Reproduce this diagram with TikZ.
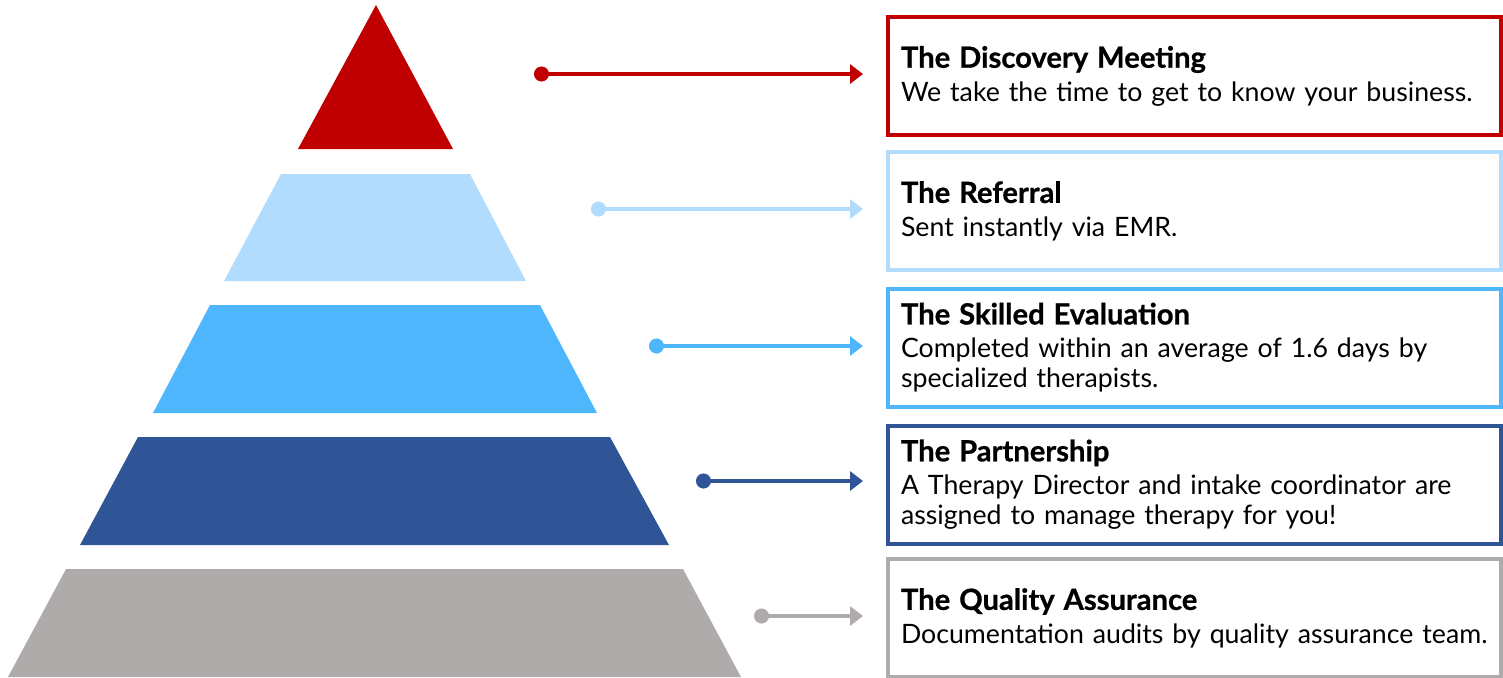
\documentclass[tikz,border=0pt]{standalone}
\usepackage{fontspec}
\setmainfont{Lato}[BoldFeatures={FakeBold=0.8}]
\usepackage{tikz}
\usetikzlibrary{positioning,arrows.meta,calc}

\definecolor{cRed}{HTML}{C00000}
\definecolor{cLight}{HTML}{B2DCFD}
\definecolor{cMid}{HTML}{4EB6FC}
\definecolor{cDark}{HTML}{2F5597}
\definecolor{cGray}{HTML}{AFABAB}

\newcommand{\boxtitle}[1]{{\fontsize{8.3}{9}\selectfont\textbf{#1}}}

\tikzset{
  infobox/.style={draw=#1,line width=0.04cm,minimum width=6.13cm,minimum height=1.18cm,
    text width=5.87cm,inner xsep=0.13cm,align=left,font=\fontsize{7.6}{8.5}\selectfont},
  conn/.style={draw=#1,line width=0.035cm,{Circle[length=0.15cm]}-{Triangle[length=0.13cm,width=0.19cm]},shorten >=0.23cm}
}

\begin{document}
\begin{tikzpicture}
          \useasboundingbox (0,0) rectangle (15.03,-6.77);

          % Draw the layers
          \fill[cRed] (3.76,-0.05) -- (4.53,-1.49) -- (2.98,-1.49) -- cycle;
          \fill[cLight] (2.81,-1.74) -- (4.70,-1.74) -- (5.26,-2.81) -- (2.24,-2.81) -- cycle;
          \fill[cMid] (2.10,-3.05) -- (5.40,-3.05) -- (5.97,-4.13) -- (1.53,-4.13) -- cycle;
          \fill[cDark] (1.38,-4.37) -- (6.10,-4.37) -- (6.69,-5.45) -- (0.80,-5.45) -- cycle;
          \fill[cGray] (0.66,-5.69) -- (6.83,-5.69) -- (7.41,-6.77) -- (0.08,-6.77) -- cycle;

          % Draw the boxes
          \node[infobox=cRed] (b1) at (11.945,-0.76) {\boxtitle{The Discovery Meeting}\\[1pt]
            We take the time to get to know your business.};
          \node[infobox=cLight] (b2) at (11.945,-2.11) {\boxtitle{The Referral}\\[1pt]
            Sent instantly via EMR.};
          \node[infobox=cMid] (b3) at (11.945,-3.475) {\boxtitle{The Skilled Evaluation}\\[1pt]
            Completed within an average of 1.6 days by\\ specialized therapists.};
          \node[infobox=cDark] (b4) at (11.945,-4.845) {\boxtitle{The Partnership}\\[1pt]
            A Therapy Director and intake coordinator are\\ assigned to manage therapy for you!};
          \node[infobox=cGray] (b5) at (11.945,-6.18) {\boxtitle{The Quality Assurance}\\[1pt]
            Documentation audits by quality assurance team.};

          % Draw the arrows
          \coordinate (d1) at (5.34,-0.74);
          \coordinate (d2) at (5.91,-2.09);
          \coordinate (d3) at (6.49,-3.46);
          \coordinate (d4) at (6.96,-4.81);
          \coordinate (d5) at (7.54,-6.16);
          \draw[conn=cRed] (d1) -- (d1 -| b1.west);
          \draw[conn=cLight] (d2) -- (d2 -| b2.west);
          \draw[conn=cMid] (d3) -- (d3 -| b3.west);
          \draw[conn=cDark] (d4) -- (d4 -| b4.west);
          \draw[conn=cGray] (d5) -- (d5 -| b5.west);

        \end{tikzpicture}
\end{document}
